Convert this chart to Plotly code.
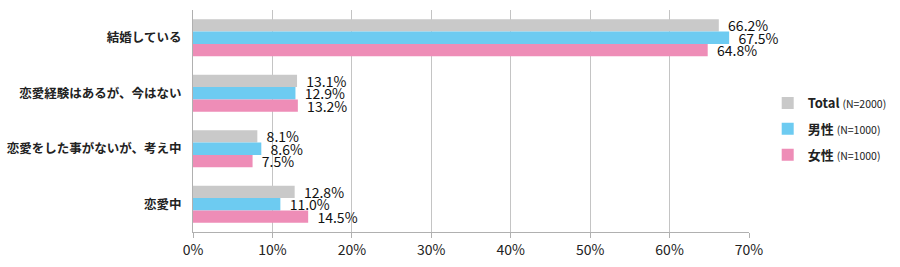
import plotly.graph_objects as go

categories = ["結婚している", "恋愛経験はあるが、今はない", "恋愛をした事がないが、考え中", "恋愛中"]
total = [66.2, 13.1, 8.1, 12.8]
male = [67.5, 12.9, 8.6, 11.0]
female = [64.8, 13.2, 7.5, 14.5]
series_names = ["<b>Total</b> <span style='font-size:10.5px'>(N=2000)</span>",
                "<b>男性</b> <span style='font-size:10.5px'>(N=1000)</span>",
                "<b>女性</b> <span style='font-size:10.5px'>(N=1000)</span>"]
colors = ["#c9c9c9", "#6dcbf1", "#ee8db7"]
tick_vals = [0, 10, 20, 30, 40, 50, 60, 70]
tick_text = ["0%", "10%", "20%", "30%", "40%", "50%", "60%", "70%"]

fig = go.Figure()
for i, (name, vals, col) in enumerate(zip(series_names, [total, male, female], colors)):
    fig.add_trace(go.Bar(
        y=categories, x=vals, orientation="h", name=name, legendgroup=f"g{i}",
        marker=dict(color=col, line=dict(width=0)),
        text=[f"\u00a0\u00a0{v:.1f}%" for v in vals], textposition="outside",
        textfont=dict(size=14, color="#111", family="Noto Sans CJK JP"),
        cliponaxis=False, constraintext="none",
    ))

fig.update_layout(
    width=900, height=267,
    margin=dict(l=193, r=151, t=10, b=35),
    barmode="group", bargap=0.33, bargroupgap=0,
    plot_bgcolor="white", paper_bgcolor="white",
    font=dict(family="Noto Sans CJK JP", color="#222"),
    legend=dict(xref="container", yref="container", x=0.853, y=0.517,
                yanchor="middle", xanchor="left",
                font=dict(size=13, color="#222"), tracegroupgap=6,
                itemwidth=30, traceorder="grouped"),
    showlegend=True,
)
fig.update_xaxes(range=[0, 70], tickvals=tick_vals, ticktext=tick_text,
                 showgrid=True, gridcolor="#c4c4c4", gridwidth=1,
                 showline=True, linecolor="#b0b0b0", ticks="outside",
                 tickcolor="#b0b0b0", ticklen=5, zeroline=False,
                 tickfont=dict(size=14, color="#222"), automargin=False)
fig.update_yaxes(autorange="reversed", showline=True, linecolor="#b0b0b0",
                 ticks="", showgrid=False, automargin=False,
                 tickfont=dict(size=12.5, color="#222", family="Noto Sans CJK JP"),
                 ticklabelstandoff=8,
                 tickprefix="<b>", ticksuffix="</b>")

fig.write_html("out.html")
